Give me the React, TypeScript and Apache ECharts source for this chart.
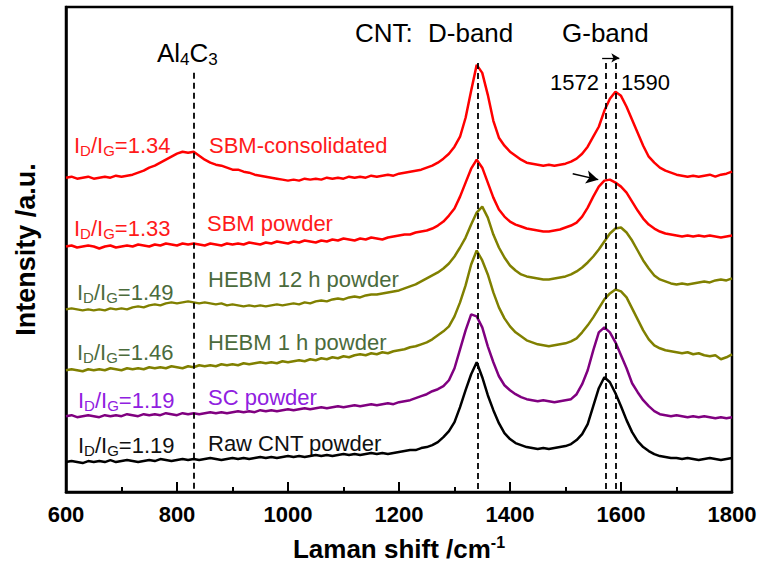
import { useEffect, useRef } from "react";
import * as echarts from "echarts";

// Raman shift sampling grid (cm^-1)
const wavenumbers: number[] = Array.from({ length: 121 }, (_, i) => 600 + i * 10);

// Stacked spectra, intensity in arbitrary units (offset per sample)
const rawCnt = [
  30, 31, 30, 29, 31, 30, 31, 30, 32, 30,
  31, 32, 31, 30, 31, 32, 31, 33, 32, 31,
  32, 33, 32, 33, 32, 33, 34, 33, 32, 33,
  34, 33, 34, 33, 34, 35, 34, 35, 34, 35,
  36, 35, 36, 35, 36, 37, 36, 37, 36, 37,
  38, 37, 38, 37, 38, 39, 38, 39, 38, 39,
  40, 41, 42, 42, 44, 45, 47, 50, 55, 61,
  70, 85, 102, 118, 130, 115, 97, 82, 69, 59,
  53, 49, 47, 45, 44, 43, 44, 43, 44, 45,
  46, 48, 52, 58, 68, 86, 104, 115, 110, 99,
  86, 72, 60, 51, 45, 41, 38, 36, 35, 34,
  34, 33, 34, 33, 32, 33, 34, 33, 32, 33,
  34,
];

const scPowder = [
  76, 77, 75, 76, 77, 76, 75, 77, 76, 77,
  76, 78, 77, 76, 78, 77, 78, 77, 79, 78,
  77, 79, 78, 79, 78, 79, 80, 79, 80, 79,
  80, 81, 80, 81, 80, 82, 81, 82, 81, 82,
  83, 82, 83, 84, 83, 84, 85, 84, 85, 86,
  85, 86, 87, 86, 87, 88, 87, 88, 89, 88,
  90, 91, 92, 94, 96, 98, 101, 103, 106, 112,
  124, 143, 162, 178, 176, 165, 146, 130, 116, 107,
  102, 98, 95, 93, 92, 91, 92, 91, 90, 91,
  92, 93, 98, 108, 122, 142, 160, 165, 160, 150,
  137, 124, 109, 100, 92, 86, 81, 78, 77, 76,
  77, 76, 75, 76, 75, 76, 75, 74, 75, 74,
  75,
];

const hebm1h = [
  122, 123, 122, 121, 123, 122, 123, 122, 124, 123,
  122, 124, 123, 124, 123, 125, 124, 125, 124, 126,
  125, 124, 126, 125, 127, 126, 127, 126, 128, 127,
  128, 127, 129, 128, 129, 130, 129, 130, 129, 131,
  130, 131, 132, 131, 133, 132, 134, 133, 135, 134,
  136, 135, 137, 138, 137, 139, 138, 140, 139, 141,
  142, 143, 145, 146, 148, 150, 153, 157, 161, 166,
  176, 190, 207, 228, 242, 232, 218, 200, 185, 174,
  166, 160, 156, 152, 150, 148, 147, 146, 147, 148,
  149, 151, 154, 160, 167, 175, 184, 193, 199, 203,
  201, 195, 184, 173, 162, 153, 147, 144, 142, 141,
  140, 139, 140, 138, 139, 137, 136, 137, 133, 135,
  138,
];

const hebm12h = [
  183, 184, 183, 182, 183, 182, 183, 182, 184, 183,
  184, 183, 185, 186, 185, 187, 188, 187, 189, 190,
  189, 190, 191, 190, 189, 190, 189, 188, 189, 187,
  188, 187, 186, 187, 186, 187, 186, 187, 188, 187,
  188, 189, 188, 190, 189, 191, 192, 191, 193, 194,
  193, 195, 196, 195, 197, 198, 198, 199, 200, 201,
  202, 204, 206, 208, 211, 214, 217, 220, 224, 229,
  236, 245, 255, 268, 280, 286, 275, 258, 245, 235,
  227, 222, 218, 216, 215, 214, 213, 213, 214, 215,
  216, 218, 221, 225, 230, 236, 243, 251, 259, 264,
  265, 260, 252, 242, 232, 224, 217, 213, 211, 209,
  208, 209, 208, 209, 210, 211, 210, 212, 213, 212,
  214,
];

const sbmPowder = [
  246, 247, 245, 246, 247, 246, 244, 246, 247, 245,
  246, 247, 246, 248, 247, 246, 248, 247, 249, 248,
  247, 249, 248, 249, 248, 247, 249, 248, 247, 249,
  248, 249, 248, 250, 249, 248, 250, 249, 251, 250,
  249, 251, 250, 252, 251, 250, 252, 251, 253, 252,
  254, 253, 252, 254, 253, 255, 254, 253, 255, 256,
  257, 258, 258, 260, 261, 262, 264, 267, 271, 277,
  284, 296, 310, 324, 333, 325, 310, 295, 283, 276,
  271, 268, 266, 264, 263, 262, 261, 261, 262, 263,
  265, 267, 270, 276, 285, 296, 306, 312, 313, 310,
  306, 300, 291, 282, 274, 268, 264, 261, 259, 258,
  257, 256, 257, 256, 257, 256, 257, 256, 255, 256,
  257,
];

const sbmConsolidated = [
  315, 316, 314, 315, 316, 314, 315, 316, 315, 317,
  316, 317, 318, 320, 322, 325, 327, 330, 333, 336,
  339, 341, 340, 341, 337, 333, 330, 328, 327, 325,
  323, 323, 321, 320, 318, 317, 316, 315, 314, 313,
  312, 313, 312, 314, 313, 314, 313, 315, 314, 315,
  314, 316, 315, 316, 315, 317, 316, 317, 318, 317,
  319, 320, 321, 322, 323, 325, 327, 330, 334, 339,
  346, 356, 375, 402, 428, 420, 398, 372, 355, 347,
  341, 337, 333, 330, 329, 328, 327, 328, 327, 328,
  329, 331, 334, 339, 346, 356, 366, 382, 394, 401,
  397, 386, 373, 360, 347, 336, 330, 325, 322, 320,
  318, 317, 316, 317, 316, 317, 318, 316, 318, 319,
  321,
];

const sampleNames = [
  "SBM-consolidated",
  "SBM powder",
  "HEBM 12 h powder",
  "HEBM 1 h powder",
  "SC powder",
  "Raw CNT powder",
];
const ratios = ["1.34", "1.33", "1.49", "1.46", "1.19", "1.19"];
const spectraValues = [sbmConsolidated, sbmPowder, hebm12h, hebm1h, scPowder, rawCnt];

// Dashed reference positions: Al4C3, D band, G band (1572 / 1590)
const guidePositions = [830, 1342, 1572, 1590];
const guideTops = [420, 430, 430, 430];

// Peak-shift arrows: [x1, y1, x2, y2]
const shiftArrow = [1566, 435, 1597, 435];
const pointerArrow = [1513, 319, 1559, 313];

const FONT = 'Arial, "Liberation Sans", sans-serif';

const lineColors = ["#ff0000", "#ff0000", "#808000", "#808000", "#800080", "#000000"];
const textColors = ["#ff1a1a", "#ff1a1a", "#4b6b3c", "#4b6b3c", "#9020e0", "#111111"];

// label anchors (left x, vertical centre y) in pixels
const ratioPos = [
  [74, 145],
  [74, 228],
  [77, 292],
  [77, 352],
  [78, 400],
  [78, 445],
];
const namePos = [
  [209, 145],
  [207, 223],
  [208, 279],
  [208, 342],
  [208, 397],
  [208, 443],
];

function subRich(color: string, size: number, subSize: number, lh: number) {
  return {
    m: { fontSize: size, fontFamily: FONT, fill: color, lineHeight: lh },
    s: {
      fontSize: subSize,
      fontFamily: FONT,
      fill: color,
      lineHeight: Math.round(subSize * 0.95),
      verticalAlign: "bottom",
    },
  };
}

function buildOption() {
  const series: any[] = spectraValues.map((vals, k) => ({
    type: "line",
    name: sampleNames[k],
    data: wavenumbers.map((x, i) => [x, vals[i]]),
    showSymbol: false,
    symbol: "none",
    silent: true,
    lineStyle: { color: lineColors[k], width: 2.5 },
    z: 3,
  }));

  series.push({
    type: "line",
    name: "guides",
    data: [],
    silent: true,
    z: 4,
    markLine: {
      silent: true,
      symbol: ["none", "none"],
      label: { show: false },
      lineStyle: { color: "#000", type: [6, 4], width: 1.8 },
      data: guidePositions.map((x, i) => [
        { coord: [x, guideTops[i]] },
        { coord: [x, 0] },
      ]),
    },
  });

  series.push({
    type: "line",
    name: "arrows",
    data: [],
    silent: true,
    z: 5,
    markLine: {
      silent: true,
      label: { show: false },
      symbol: ["none", "arrow"],
      data: [
        [
          {
            coord: [shiftArrow[0], shiftArrow[1]],
            symbol: "none",
            lineStyle: { color: "#000", type: "solid", width: 1.3 },
          },
          { coord: [shiftArrow[2], shiftArrow[3]], symbol: "arrow", symbolSize: [7, 8] },
        ],
        [
          {
            coord: [pointerArrow[0], pointerArrow[1]],
            symbol: "none",
            lineStyle: { color: "#000", type: "solid", width: 1.5 },
          },
          { coord: [pointerArrow[2], pointerArrow[3]], symbol: "arrow", symbolSize: [10, 12] },
        ],
      ],
    },
  });

  const graphic: any[] = [];
  sampleNames.forEach((nm, k) => {
    graphic.push({
      type: "text",
      x: ratioPos[k][0],
      y: ratioPos[k][1],
      silent: true,
      style: {
        text: `{m|I}{s|D}{m|/I}{s|G}{m|=${ratios[k]}}`,
        fill: textColors[k],
        verticalAlign: "middle",
        rich: subRich(textColors[k], 22, 15, 26),
      },
    });
    graphic.push({
      type: "text",
      x: namePos[k][0],
      y: namePos[k][1],
      silent: true,
      style: {
        text: nm,
        fill: textColors[k],
        fontSize: 22,
        fontFamily: FONT,
        verticalAlign: "middle",
      },
    });
  });

  const topLabels: [string, number, number, number][] = [
    ["CNT:", 355, 33, 26],
    ["D-band", 428, 33, 26],
    ["G-band", 562, 33, 26],
    ["1572", 550, 82, 22],
    ["1590", 621, 82, 22],
  ];
  topLabels.forEach(([t, x, y, fs]) => {
    graphic.push({
      type: "text",
      x,
      y,
      silent: true,
      style: { text: t, fill: "#000", fontSize: fs, fontFamily: FONT, verticalAlign: "middle" },
    });
  });
  graphic.push({
    type: "text",
    x: 157,
    y: 53,
    silent: true,
    style: {
      text: "{m|Al}{s|4}{m|C}{s|3}",
      fill: "#000",
      verticalAlign: "middle",
      rich: subRich("#000", 26, 17, 30),
    },
  });

  return {
    animation: false,
    backgroundColor: "#ffffff",
    grid: {
      left: 66,
      right: 28,
      top: 7,
      bottom: 74,
      show: true,
      borderColor: "#000",
      borderWidth: 2.5,
      backgroundColor: "transparent",
    },
    xAxis: {
      type: "value",
      min: 600,
      max: 1800,
      interval: 200,
      axisLine: { show: true, onZero: false, lineStyle: { color: "#000", width: 2.5 } },
      axisTick: { show: true, inside: true, length: 10, lineStyle: { color: "#000", width: 2 } },
      minorTick: { show: true, splitNumber: 2, length: 5, lineStyle: { color: "#000", width: 2 } },
      axisLabel: {
        margin: 11,
        color: "#000",
        fontSize: 22,
        fontWeight: "bold",
        fontFamily: FONT,
        formatter: (v: number) => String(v),
      },
      splitLine: { show: false },
      name: "{m|Laman shift /cm}{sup|-1}",
      nameLocation: "middle",
      nameGap: 42,
      nameTextStyle: {
        rich: {
          m: { fontSize: 26, fontWeight: "bold", fontFamily: FONT, color: "#000", lineHeight: 30 },
          sup: {
            fontSize: 16,
            fontWeight: "bold",
            fontFamily: FONT,
            color: "#000",
            lineHeight: 14,
            verticalAlign: "top",
          },
        },
      },
    },
    yAxis: {
      type: "value",
      min: 0,
      max: 486,
      axisLine: { show: true, lineStyle: { color: "#000", width: 2.5 } },
      axisTick: { show: false },
      axisLabel: { show: false },
      splitLine: { show: false },
      name: "Intensity /a.u.",
      nameLocation: "middle",
      nameGap: 27,
      nameTextStyle: { fontSize: 27, fontWeight: "bold", color: "#000", fontFamily: FONT },
    },
    series,
    graphic,
  };
}

export default function App() {
  const ref = useRef<HTMLDivElement>(null);
  useEffect(() => {
    if (!ref.current) return;
    const chart = echarts.init(ref.current, undefined, { renderer: "svg" });
    chart.setOption(buildOption() as any);
    return () => chart.dispose();
  }, []);
  return (
    <div
      ref={ref}
      style={{ position: "absolute", left: 0, top: 0, width: 760, height: 567, background: "#fff" }}
    />
  );
}
